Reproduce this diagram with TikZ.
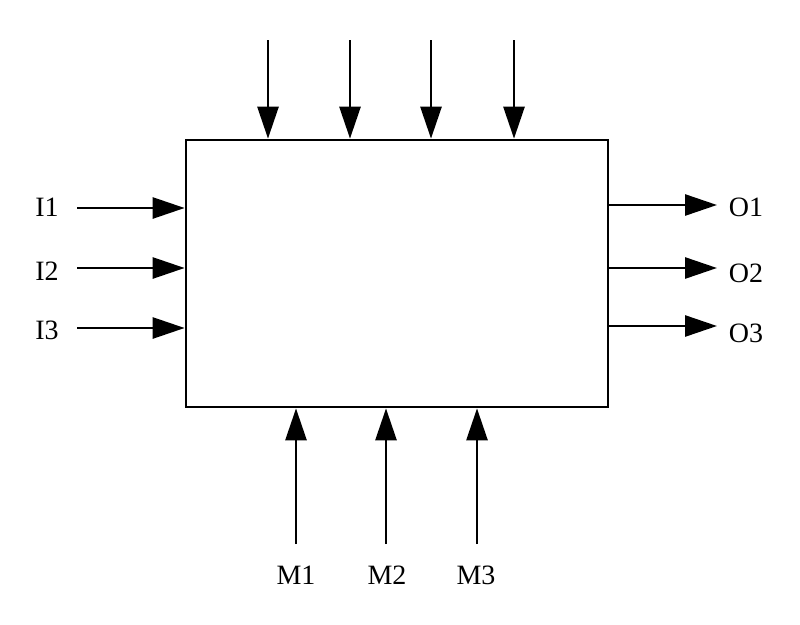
\documentclass[tikz,border=0pt]{standalone}
\usepackage{fontspec}
\setmainfont{Liberation Serif}
\usetikzlibrary{arrows.meta}
\begin{document}
\begin{tikzpicture}[x=1pt,y=-1pt,
  conn/.style={line width=2.7pt,-{Triangle[length=32pt,width=21pt]}},
  lbl/.style={inner sep=0pt,font=\fontsize{28}{32}\selectfont},
  boxst/.style={draw,line width=2.7pt,minimum width=422pt,minimum height=267pt,inner sep=0pt}]
\useasboundingbox (0,0) rectangle (800,624);
\node[boxst] (box) at (397,273.5) {};
% top inputs
\coordinate (t1) at (268,40);
\coordinate (t2) at (350,40);
\coordinate (t3) at (431,40);
\coordinate (t4) at (514,40);
\foreach \c in {t1,t2,t3,t4} \draw[conn] (\c) -- (\c |- box.north);
% left inputs
\node[lbl] (i1) at (47,207) {I1};
\node[lbl] (i2) at (47,271) {I2};
\node[lbl] (i3) at (47,330) {I3};
\coordinate (l1) at (77,208);
\coordinate (l2) at (77,268);
\coordinate (l3) at (77,328);
\foreach \c in {l1,l2,l3} \draw[conn] (\c) -- (\c -| box.west);
% right outputs
\node[lbl] (o1) at (746,207) {O1};
\node[lbl] (o2) at (746,273) {O2};
\node[lbl] (o3) at (746,333) {O3};
\coordinate (r1) at (717,205);
\coordinate (r2) at (717,268);
\coordinate (r3) at (717,326);
\foreach \c in {r1,r2,r3} \draw[conn] (\c -| box.east) -- (\c);
% bottom mechanisms
\node[lbl] (m1) at (296,575) {M1};
\node[lbl] (m2) at (387,575) {M2};
\node[lbl] (m3) at (476,575) {M3};
\coordinate (b1) at (296,544);
\coordinate (b2) at (386,544);
\coordinate (b3) at (477,544);
\foreach \c in {b1,b2,b3} \draw[conn] (\c) -- (\c |- box.south);
\end{tikzpicture}
\end{document}
